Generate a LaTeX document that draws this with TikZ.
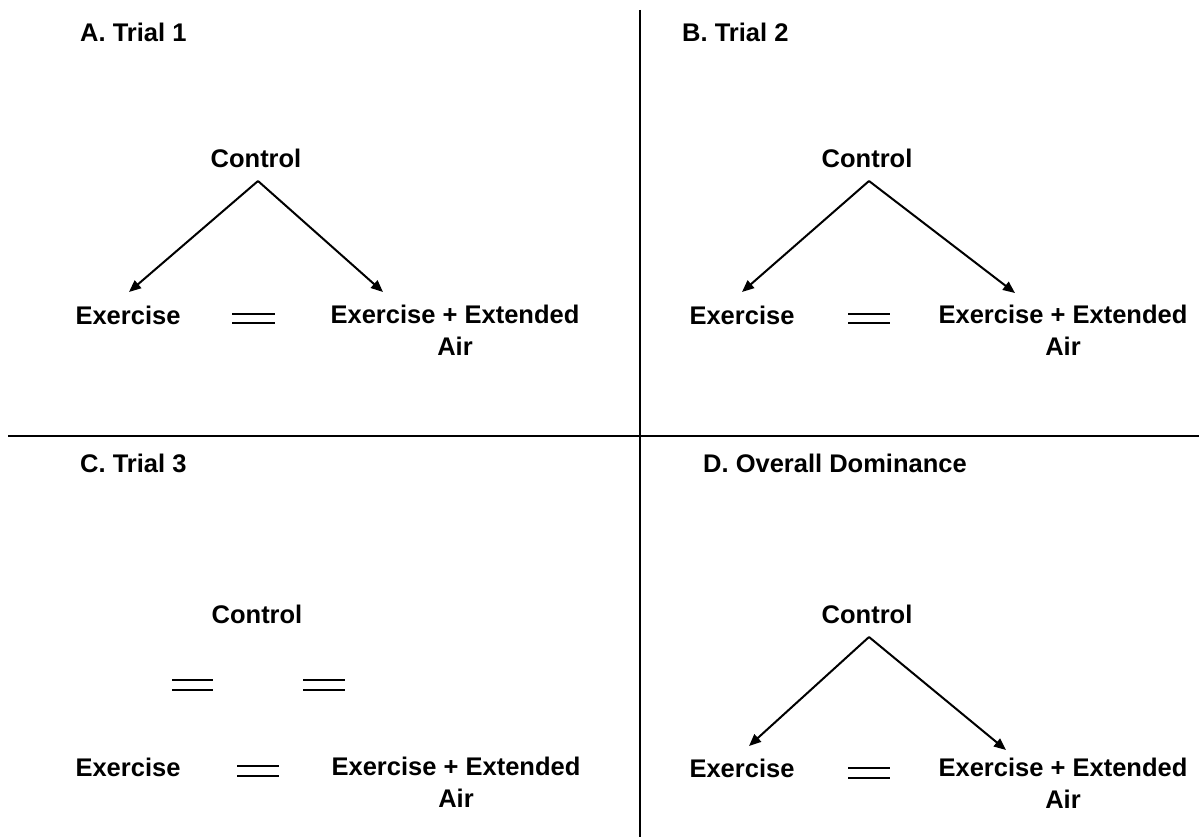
\documentclass[tikz,border=0pt]{standalone}
\usepackage{fontspec}
\setmainfont{Liberation Sans}
\usetikzlibrary{arrows.meta}
\begin{document}
\begin{tikzpicture}[x=1pt,y=-1pt,
  lbl/.style={font=\fontsize{25.5}{32}\selectfont\bfseries, inner sep=0pt, anchor=base},
  ttl/.style={lbl, anchor=base west},
  two/.style={lbl, align=center, anchor=north},
  arr/.style={line width=2pt, -{Triangle[length=12pt,width=10pt]}},
  eqline/.style={line width=2.2pt},
  divider/.style={line width=2pt}]
\useasboundingbox (0,0) rectangle (1199,837);
\fill[white] (0,0) rectangle (1199,837);

% dividers
\coordinate (vtop) at (640,10); \coordinate (vbot) at (640,837);
\coordinate (hl) at (8,436); \coordinate (hr) at (1199,436);
\draw[divider] (vtop) -- (vbot);
\draw[divider] (hl) -- (hr);

% Panel A
\node[ttl] (tA) at (80,42) {A. Trial 1};
\node[lbl] (cA) at (256,168) {Control};
\node[lbl] (eA) at (128,324) {Exercise};
\node[two] (xA) at (455,305) {Exercise + Extended\\Air};
\coordinate (tAL) at (129,292);
\coordinate (tAR) at (383,292);
\draw[arr] ([xshift=2pt,yshift=-13pt]cA.base) -- (tAL);
\draw[arr] ([xshift=2pt,yshift=-13pt]cA.base) -- (tAR);
\draw[eqline] (232,314) -- (275,314) (232,323) -- (275,323);

% Panel B
\node[ttl] (tB) at (682,42) {B. Trial 2};
\node[lbl] (cB) at (867,168) {Control};
\node[lbl] (eB) at (742,324) {Exercise};
\node[two] (xB) at (1063,305) {Exercise + Extended\\Air};
\coordinate (tBL) at (742,292);
\coordinate (tBR) at (1015,293);
\draw[arr] ([xshift=2pt,yshift=-13pt]cB.base) -- (tBL);
\draw[arr] ([xshift=2pt,yshift=-13pt]cB.base) -- (tBR);
\draw[eqline] (848,314) -- (890,314) (848,323) -- (890,323);

% Panel C
\node[ttl] (tC) at (80,472) {C. Trial 3};
\node[lbl] (cC) at (257,623) {Control};
\node[lbl] (eC) at (128,776) {Exercise};
\node[two] (xC) at (456,757) {Exercise + Extended\\Air};
\draw[eqline] (172,680) -- (213,680) (172,690) -- (213,690);
\draw[eqline] (303,680) -- (345,680) (303,690) -- (345,690);
\draw[eqline] (237,766) -- (279,766) (237,776) -- (279,776);

% Panel D
\node[ttl] (tD) at (703,472) {D. Overall Dominance};
\node[lbl] (cD) at (867,623) {Control};
\node[lbl] (eD) at (742,777) {Exercise};
\node[two] (xD) at (1063,758) {Exercise + Extended\\Air};
\coordinate (tDL) at (749,746);
\coordinate (tDR) at (1006,750);
\draw[arr] ([xshift=2pt,yshift=-14pt]cD.base) -- (tDL);
\draw[arr] ([xshift=2pt,yshift=-14pt]cD.base) -- (tDR);
\draw[eqline] (848,768) -- (890,768) (848,778) -- (890,778);
\end{tikzpicture}
\end{document}
